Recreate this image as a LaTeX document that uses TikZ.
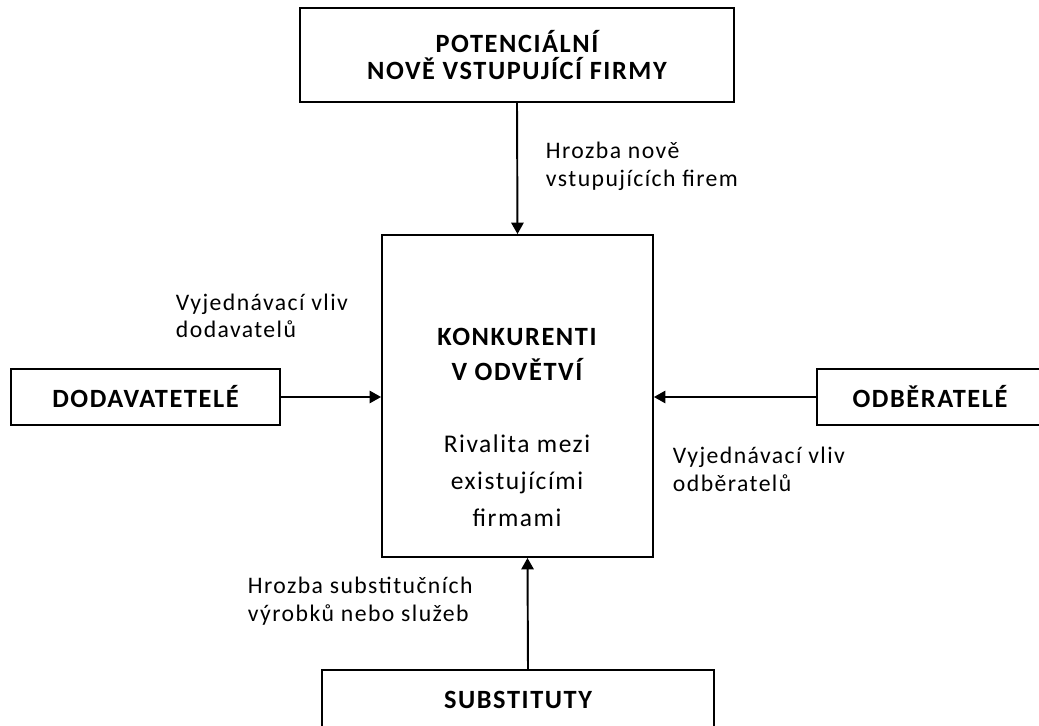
\documentclass[tikz,border=0pt]{standalone}
\usepackage{fontspec}
\setmainfont{Carlito}[LetterSpace=6.0]
\usetikzlibrary{arrows.meta,positioning}

\begin{document}
\begin{tikzpicture}[x=0.02cm,y=-0.02cm,line width=1.1pt,
    >={Triangle[length=6.5pt,width=7pt]},
    force/.style={draw,inner sep=0pt,align=center,
      font=\bfseries\fontsize{15}{15.3}\selectfont},
    infl/.style={inner sep=0pt,align=left,anchor=west,
      font=\fontsize{13.5}{15.6}\selectfont}]
  \useasboundingbox (0,0) rectangle (1039,726);
  \clip (0,0) rectangle (1039,726);
  % the five forces
  \node[force,minimum width=86.8mm,minimum height=18.8mm] (E) at (517,55)
    {POTENCIÁLNÍ\\NOVĚ VSTUPUJÍCÍ FIRMY};
  \node[draw,minimum width=54.2mm,minimum height=64.4mm] (R) at (517.5,396) {};
  \node[force,draw=none,font=\bfseries\fontsize{15}{19.8}\selectfont] (Rt) at (517,354.5)
    {KONKURENTI\\V ODVĚTVÍ};
  \node[inner sep=0pt,align=center,font=\fontsize{14.5}{21}\selectfont] (Rx) at (517,481)
    {Rivalita mezi\\existujícími\\firmami};
  \node[force,minimum width=53.8mm,minimum height=11.2mm] (D) at (145.5,397) {DODAVATETELÉ};
  \node[force,minimum width=45.2mm,minimum height=11.2mm] (O) at (930,397) {ODBĚRATELÉ};
  \node[force,minimum width=78.4mm,minimum height=12mm] (S) at (518,700) {SUBSTITUTY};
  % arrows into the middle
  \draw[->] (E.south) -- (R.north);
  \draw[->] (D.east) -- (D.east -| R.west);
  \draw[->] (O.west) -- (O.west -| R.east);
  \draw[->] ([xshift=2mm]S.north) -- ([xshift=2mm]R.south);
  % labels
  \node[infl] (El) at (545,166.5) {Hrozba nově\\vstupujících firem};
  \node[infl] (Dl) at (175,316) {Vyjednávací vliv\\dodavatelů};
  \node[infl] (Ol) at (672,469.5) {Vyjednávací vliv\\odběratelů};
  \node[infl] (Sl) at (247,601) {Hrozba substitučních\\výrobků nebo služeb};
\end{tikzpicture}
\end{document}
